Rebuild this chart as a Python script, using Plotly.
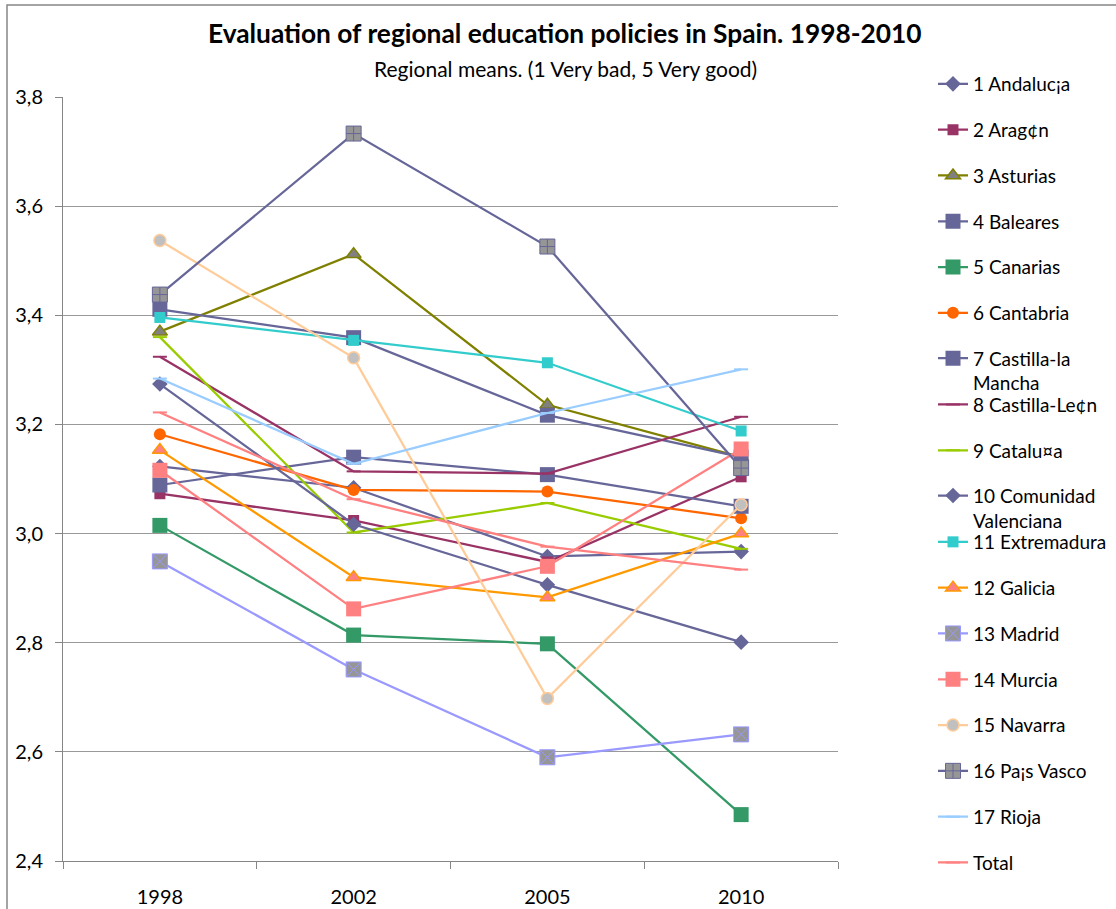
import plotly.graph_objects as go

years = ["1998", "2002", "2005", "2010"]

names = [
    "1 Andaluc¡a", "2 Arag¢n", "3 Asturias", "4 Baleares", "5 Canarias",
    "6 Cantabria", "7 Castilla-la<br>Mancha", "8 Castilla-Le¢n", "9 Catalu¤a",
    "10 Comunidad<br>Valenciana", "11 Extremadura", "12 Galicia", "13 Madrid",
    "14 Murcia", "15 Navarra", "16 Pa¡s Vasco", "17 Rioja", "Total",
]

andalucia = [3.123, 3.084, 2.958, 2.967]
aragon = [3.073, 3.024, 2.948, 3.104]
asturias = [3.370, 3.512, 3.236, 3.140]
baleares = [3.411, 3.359, 3.217, 3.140]
canarias = [3.015, 2.814, 2.798, 2.485]
cantabria = [3.182, 3.080, 3.077, 3.028]
castilla_mancha = [3.089, 3.140, 3.108, 3.050]
castilla_leon = [3.324, 3.114, 3.110, 3.214]
cataluna = [3.360, 3.002, 3.056, 2.972]
com_valenciana = [3.274, 3.017, 2.906, 2.801]
extremadura = [3.396, 3.354, 3.313, 3.188]
galicia = [3.153, 2.920, 2.883, 3.000]
madrid = [2.949, 2.751, 2.590, 2.632]
murcia = [3.116, 2.862, 2.940, 3.155]
navarra = [3.537, 3.322, 2.698, 3.053]
pais_vasco = [3.438, 3.733, 3.526, 3.120]
rioja = [3.284, 3.128, 3.221, 3.301]
total = [3.222, 3.063, 2.976, 2.934]

series = [andalucia, aragon, asturias, baleares, canarias, cantabria,
          castilla_mancha, castilla_leon, cataluna, com_valenciana, extremadura,
          galicia, madrid, murcia, navarra, pais_vasco, rioja, total]

# style: (line colour, symbol, marker fill, marker line colour, size, marker line width)
styles = [
    ("#666699", "diamond", "#666699", "#666699", 12, 0),
    ("#993366", "square", "#993366", "#993366", 11, 0),
    ("#808000", "triangle-up", "#808080", "#808000", 13, 1.5),
    ("#666699", "square", "#666699", "#666699", 15, 0),
    ("#339966", "square", "#339966", "#339966", 15, 0),
    ("#FF6600", "circle", "#FF6600", "#FF6600", 12, 0),
    ("#666699", "square", "#666699", "#666699", 15, 0),
    ("#993366", "line-ew", "#993366", "#993366", 10, 2),
    ("#99CC00", "line-ew", "#99CC00", "#99CC00", 10, 2),
    ("#666699", "diamond", "#666699", "#666699", 12, 0),
    ("#33CCCC", "square", "#33CCCC", "#33CCCC", 11, 0),
    ("#FF9900", "triangle-up", "#FF8080", "#FF9900", 13, 1.5),
    ("#9999FF", "square-x", "#969696", "#9999FF", 15, 1),
    ("#FF8080", "square", "#FF8080", "#FF8080", 15, 0),
    ("#FFCC99", "circle", "#C0C0C0", "#FFCC99", 12, 1.5),
    ("#666699", "square-cross", "#969696", "#666699", 15, 1),
    ("#99CCFF", "line-ew", "#99CCFF", "#99CCFF", 10, 2),
    ("#FF8080", "line-ew", "#FF8080", "#FF8080", 10, 2),
]

W, H = 1116, 909
L, R, T, B = 63, 838, 97, 861
pw, ph = R - L, B - T

fig = go.Figure()
font = "Lato, 'Noto Sans', sans-serif"
legend_layout = {}
for i, (nm, vals, st) in enumerate(zip(names, series, styles)):
    lc, sym, fill, mlc, size, mlw = st
    key = "legend" if i == 0 else f"legend{i + 1}"
    fig.add_trace(go.Scatter(
        x=years, y=vals, name=nm, mode="lines+markers",
        line=dict(color=lc, width=2.25),
        marker=dict(symbol=sym, color=fill, size=size,
                    line=dict(color=mlc, width=mlw)),
        legend=key,
    ))
    py = 84 + 45.8 * i
    if "<br>" in nm:
        py += 12
    legend_layout[key] = dict(
        xref="container", yref="container",
        x=933 / W, xanchor="left",
        y=1 - py / H, yanchor="middle",
        bgcolor="rgba(0,0,0,0)", borderwidth=0,
        font=dict(family=font, size=19, color="#000000"),
        valign="top", itemwidth=30,
    )

fig.update_layout(
    width=W, height=H,
    margin=dict(l=L, r=W - R, t=T, b=H - B, pad=0, autoexpand=False),
    paper_bgcolor="white", plot_bgcolor="white",
    separators=",.",
    showlegend=True,
    font=dict(family=font, color="#000000"),
    xaxis=dict(type="category", tickson="boundaries", ticks="outside",
               ticklen=7, tickcolor="#868686", showline=True,
               linecolor="#868686", linewidth=1, showgrid=False,
               tickfont=dict(size=20), ticklabelstandoff=18,
               range=[-0.5, 3.5]),
    yaxis=dict(range=[2.4, 3.8], dtick=0.2, tick0=2.4, tickformat=".1f",
               ticks="outside", ticklen=7, tickcolor="#868686",
               showline=True, linecolor="#868686", linewidth=1,
               showgrid=True, gridcolor="#999999", gridwidth=1,
               zeroline=False, tickfont=dict(size=20), ticklabelstandoff=8),
    annotations=[
        dict(text="<b>Evaluation of regional education policies in Spain. 1998-2010</b>",
             x=(565 - L) / pw, y=(B - 33) / ph, xref="paper", yref="paper",
             xanchor="center", yanchor="middle", showarrow=False,
             font=dict(family=font, size=26.3, color="#000000")),
        dict(text="Regional means. (1 Very bad, 5 Very good)",
             x=(565 - L) / pw, y=(B - 68) / ph, xref="paper", yref="paper",
             xanchor="center", yanchor="middle", showarrow=False,
             font=dict(family=font, size=21, color="#000000")),
    ],
    shapes=[dict(type="rect", xref="paper", yref="paper",
                 x0=(7 - L) / pw, x1=(W + 20 - L) / pw,
                 y0=(B - H - 20) / ph, y1=(B - 5) / ph,
                 line=dict(color="#868686", width=1.5), layer="below")],
    **legend_layout,
)

fig.write_html(
    "out.html",
    config={"displayModeBar": False},
    post_script="document.body.style.margin='0';document.body.style.padding='0';",
)
